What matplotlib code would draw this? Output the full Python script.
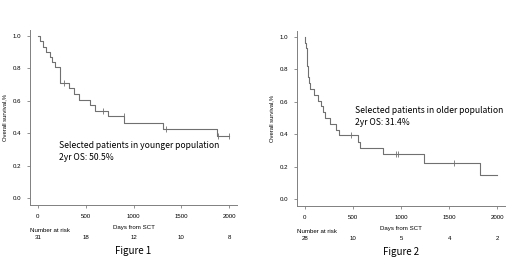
import numpy as np
import matplotlib
matplotlib.use('Agg')
import matplotlib.pyplot as plt

# Кривые Каплана-Мейера (время события, выживаемость после события)
young_t = [0, 21, 56, 90, 125, 149, 177, 229, 323, 375, 427, 542, 601, 729, 903, 1312, 1868, 2000]
young_s = [1.0, 0.968, 0.935, 0.903, 0.871, 0.839, 0.806, 0.710, 0.676, 0.642, 0.608, 0.574, 0.540, 0.504, 0.465, 0.427, 0.384, 0.384]
young_cens_t = [271, 677, 896, 1337, 1885, 2000]
young_cens_s = [0.710, 0.540, 0.504, 0.427, 0.384, 0.384]

old_t = [0, 8, 14, 20, 25, 29, 33, 37, 41, 46, 52, 59, 97, 139, 174, 191, 209, 261, 323, 358, 550, 574, 817, 1235, 1816, 2000]
old_s = [1.0, 0.964, 0.929, 0.893, 0.857, 0.821, 0.786, 0.750, 0.714, 0.714, 0.714, 0.679, 0.643, 0.607, 0.571, 0.536, 0.500,
         0.464, 0.429, 0.393, 0.354, 0.314, 0.275, 0.220, 0.147, 0.147]
old_cens_t = [477, 946, 967, 1548]
old_cens_s = [0.393, 0.275, 0.275, 0.220]

xticks = [0, 500, 1000, 1500, 2000]
yticks = [0.0, 0.2, 0.4, 0.6, 0.8, 1.0]
risk_young = [31, 18, 12, 10, 8]
risk_old = [28, 10, 5, 4, 2]

line_col = '#707070'
axis_col = '#808080'
small = 'Liberation Sans'
big = ['Noto Sans CJK JP', 'DejaVu Sans']

fig = plt.figure(figsize=(5.2, 2.61), dpi=100)


def km_panel(rect, t, s, ct, cs, risk, note, note_xy, fig_label):
    ax = fig.add_axes(rect)
    ax.step(t, s, where='post', color=line_col, lw=0.8)
    ax.plot(ct, cs, ls='none', marker='|', ms=4, mew=0.6, color=line_col)
    ax.set_xlim(-80, 2080)
    ax.set_ylim(-0.04, 1.04)
    ax.set_xticks(xticks)
    ax.set_yticks(yticks)
    ax.set_xticklabels([str(v) for v in xticks], fontfamily=small, fontsize=4.4)
    ax.set_yticklabels(['%.1f' % v for v in yticks], fontfamily=small, fontsize=4.4)
    for side in ['top', 'right']:
        ax.spines[side].set_visible(False)
    for side in ['left', 'bottom']:
        ax.spines[side].set_color(axis_col)
        ax.spines[side].set_linewidth(0.7)
    ax.tick_params(length=2.5, width=0.6, color=axis_col, pad=4)
    ax.set_ylabel('Overall survival,%', fontfamily=small, fontsize=4.2, labelpad=4)
    tr = ax.get_xaxis_transform()
    ax.text(1000, -0.13, 'Days from SCT', transform=tr, ha='center', va='center',
            fontfamily=small, fontsize=4.4)
    ax.text(-80, -0.147, 'Number at risk', transform=tr, ha='left', va='center',
            fontfamily=small, fontsize=4.4)
    for x, n in zip(xticks, risk):
        ax.text(x, -0.19, str(n), transform=tr, ha='center', va='center',
                fontfamily=small, fontsize=4.4)
    ax.text(1000, -0.265, fig_label, transform=tr, ha='center', va='center',
            fontfamily=big, fontsize=7)
    ax.text(note_xy[0], note_xy[1], note, ha='left', va='center',
            fontfamily=big, fontsize=6.2, linespacing=1.4)
    return ax


km_panel([30 / 520, 56.5 / 261, 207 / 520, 175 / 261], young_t, young_s,
         young_cens_t, young_cens_s, risk_young,
         'Selected patients in younger population\n2yr OS: 50.5%', (220, 0.285), 'Figure 1')
km_panel([297 / 520, 55.5 / 261, 208 / 520, 175 / 261], old_t, old_s,
         old_cens_t, old_cens_s, risk_old,
         'Selected patients in older population\n2yr OS: 31.4%', (520, 0.51), 'Figure 2')

fig.savefig('out.png', dpi=100)
